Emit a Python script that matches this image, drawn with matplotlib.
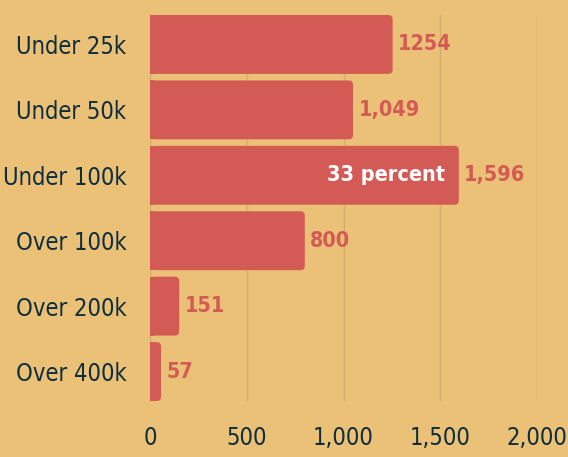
import matplotlib
matplotlib.use("Agg")
import matplotlib.pyplot as plt
from matplotlib.patches import FancyBboxPatch, Rectangle
from matplotlib import font_manager

names = {f.name for f in font_manager.fontManager.ttflist}
fam = [n for n in ["Liberation Sans Narrow", "DejaVu Sans"] if n in names]
plt.rcParams['font.family'] = fam
plt.rcParams['font.stretch'] = 'condensed'

categories = ["Under 25k", "Under 50k", "Under 100k", "Over 100k", "Over 200k", "Over 400k"]
values = [1254, 1049, 1596, 800, 151, 57]
labels = ["1254", "1,049", "1,596", "800", "151", "57"]
ticks = [0, 500, 1000, 1500, 2000]
tick_labels = ["0", "500", "1,000", "1,500", "2,000"]

bg = "#EBC077"
bar_col = "#D45B55"
txt = "#0F2E3D"
grid_col = "#D3AF6E"

fig = plt.figure(figsize=(5.68, 4.57), dpi=100, facecolor=bg)
ax = fig.add_axes([150/568, 56/457, 387/568, 386/457])
ax.set_facecolor(bg)
ax.set_xlim(0, 2000)
ax.set_ylim(len(values) - 0.55, -0.45)

h = 0.9
r = 22
aspect = 65.4 / 0.1935  # px per y unit / px per x unit
for i, v in enumerate(values):
    box = FancyBboxPatch((0, i - h/2), v, h,
                         boxstyle="round,pad=0,rounding_size=%f" % r,
                         mutation_aspect=1/aspect,
                         fc=bar_col, ec="none", zorder=3)
    ax.add_patch(box)
    ax.add_patch(Rectangle((0, i - h/2), min(v, r), h, fc=bar_col, ec="none", zorder=3))
    ax.text(v + 28, i, labels[i], color=bar_col, fontsize=15.5, fontweight="bold",
            va="center", ha="left", zorder=4)

ax.text(values[2] - 72, 2, "33 percent", color="white", fontsize=15.5, fontweight="bold",
        va="center", ha="right", zorder=4)

ax.set_yticks(range(len(categories)))
ax.set_yticklabels(categories, fontsize=17, color=txt)
ax.set_xticks(ticks)
ax.set_xticklabels(tick_labels, fontsize=17, color=txt)
ax.tick_params(axis="both", length=0)
ax.tick_params(axis="y", pad=17)
ax.tick_params(axis="x", pad=18)
ax.grid(axis="x", color=grid_col, linewidth=1, zorder=0)
for s in ax.spines.values():
    s.set_visible(False)

fig.savefig("out.png", dpi=100, facecolor=bg)
